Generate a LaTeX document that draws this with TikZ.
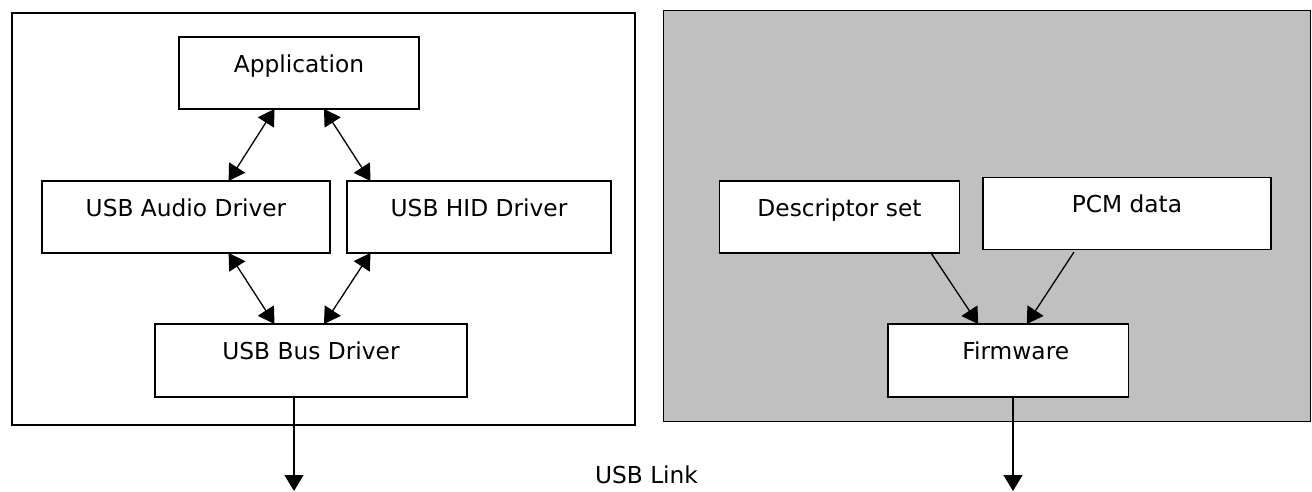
\documentclass[tikz,border=0pt]{standalone}
\usepackage{fontspec}
\setmainfont{DejaVu Sans}
\usetikzlibrary{arrows.meta}
\definecolor{panelgray}{RGB}{192,192,192}
\tikzset{
  frame/.style={draw=black, line width=1.7pt, inner sep=0pt, outer sep=0pt, anchor=north west},
  blk/.style={draw=black, fill=white, line width=1.7pt, inner sep=0pt, outer sep=0pt,
    font=\fontsize{23.3}{28}\selectfont},
  conn/.style={line width=1.3pt, -{Triangle[length=16pt,width=19pt]}},
  biconn/.style={line width=1.3pt, {Triangle[length=16pt,width=19pt]}-{Triangle[length=16pt,width=19pt]}}
}
\newcommand{\btxt}[1]{\raisebox{1pt}[0pt][0pt]{#1}}
\begin{document}
\begin{tikzpicture}[x=1pt,y=-1pt]
\useasboundingbox (0,0) rectangle (1312,491);
% panels
\node[frame, fill=white, minimum width=623pt, minimum height=412pt] (left) at (12,13) {};
\node[frame, fill=panelgray, minimum width=647pt, minimum height=411pt] (right) at (663.5,10.5) {};
% left blocks
\node[blk, minimum width=240pt, minimum height=72pt] (app) at (299,73) {\btxt{Application}};
\node[blk, minimum width=288pt, minimum height=72pt] (audio) at (186,217) {\btxt{USB Audio Driver}};
\node[blk, minimum width=264pt, minimum height=72pt] (hid) at (479,217) {\btxt{USB HID Driver}};
\node[blk, minimum width=312pt, minimum height=73pt] (bus) at (311,360.5) {\btxt{USB Bus Driver}};
% right blocks
\node[blk, minimum width=240pt, minimum height=72pt] (desc) at (839.5,217) {\btxt{Descriptor set}};
\node[blk, minimum width=288pt, minimum height=72pt] (pcm) at (1127,213.5) {\btxt{PCM data}};
\node[blk, minimum width=240.5pt, minimum height=73pt] (fw) at (1008.25,360.5) {\hspace{15pt}\btxt{Firmware}};
% label
\node[font=\fontsize{23.3}{28}\selectfont, inner sep=0pt, anchor=base] (link) at (646.5,483) {USB Link};
% end coordinates
\coordinate (busout) at (294,491);
\coordinate (fwout) at (1013,491);
% connectors
\draw[biconn] ([xshift=-24.5pt]app.south) -- ([xshift=42.6pt]audio.north);
\draw[biconn] ([xshift=25pt]app.south) -- ([xshift=-108.5pt]hid.north);
\draw[biconn] ([xshift=42.6pt]audio.south) -- ([xshift=-36.5pt]bus.north);
\draw[biconn] ([xshift=-108.5pt]hid.south) -- ([xshift=13pt]bus.north);
\draw[conn] ([xshift=91.5pt]desc.south) -- ([xshift=-30pt]fw.north);
\draw[conn] ([xshift=-53pt,yshift=-2.5pt]pcm.south) -- ([xshift=18.5pt]fw.north);
\draw[conn] ([xshift=-17pt]bus.south) -- (busout);
\draw[conn] ([xshift=4.75pt]fw.south) -- (fwout);
\end{tikzpicture}
\end{document}
